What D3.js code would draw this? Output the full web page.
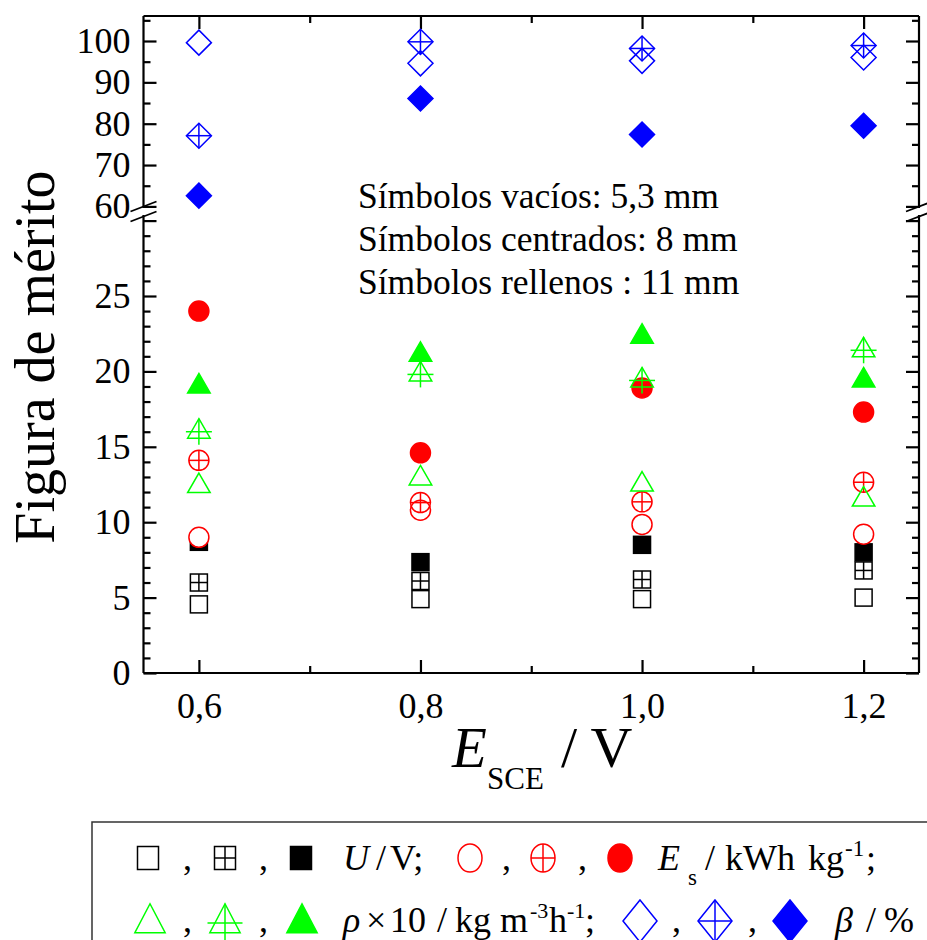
<!DOCTYPE html>
<html><head><meta charset="utf-8">
<script src="https://cdn.jsdelivr.net/npm/d3@7"></script>
<style>
html,body{margin:0;padding:0;background:#fff;}
svg{display:block;}
text{font-family:"Liberation Serif","Times New Roman",serif;fill:#000;}
</style></head>
<body>
<svg id="chart" width="927" height="940"></svg>
<script>
// ---------- data ----------
const potentials = [0.6, 0.8, 1.0, 1.2];
const xTickLabels = ["0,6", "0,8", "1,0", "1,2"];
const U_open      = [4.55, 4.9, 4.9, 5.0];
const U_centered  = [6.0, 6.1, 6.2, 6.8];
const U_filled    = [8.7, 7.35, 8.5, 8.0];
const Es_open     = [9.0, 10.8, 9.85, 9.2];
const Es_centered = [14.1, 11.3, 11.35, 12.65];
const Es_filled   = [24.0, 14.6, 18.9, 17.3];
const rho_open     = [12.4, 12.9, 12.5, 11.5];
const rho_centered = [16.0, 19.8, 19.4, 21.4];
const rho_filled   = [19.0, 21.1, 22.3, 19.4];
const beta_open     = [99.6, 94.6, 95.2, 96.0];
const beta_centered = [77.1, 99.8, 98.2, 98.9];
const beta_filled   = [62.6, 86.1, 77.4, 79.5];
const lowerTickLabels = [0, 5, 10, 15, 20, 25];
const upperTickLabels = [60, 70, 80, 90, 100];
const annotations = ["Símbolos vacíos: 5,3 mm", "Símbolos centrados: 8 mm", "Símbolos rellenos : 11 mm"];

// ---------- layout ----------
const L = 143.5, R = 919, T = 16, B = 673;
const svg = d3.select("#chart");
const x = d3.scaleLinear().domain([0.55, 1.25]).range([L, R]);
const yLow = d3.scaleLinear().domain([0, 30]).range([B, B - 30 * 15.08]);
const yUp = d3.scaleLinear().domain([60, 100]).range([206.4, 41]);
const upLowEnd = 208, lowTopEnd = 215;

const frame = svg.append("g").attr("stroke", "#000").attr("stroke-width", 2.2).attr("fill", "none");
frame.append("line").attr("x1", L).attr("x2", R).attr("y1", T).attr("y2", T);
frame.append("line").attr("x1", L).attr("x2", R).attr("y1", B).attr("y2", B);
[L, R].forEach(xx => {
  frame.append("line").attr("x1", xx).attr("x2", xx).attr("y1", T).attr("y2", upLowEnd);
  frame.append("line").attr("x1", xx).attr("x2", xx).attr("y1", lowTopEnd).attr("y2", B);
  [206.5, 216.5].forEach(cy => {
    frame.append("line").attr("x1", xx - 13).attr("y1", cy + 5).attr("x2", xx + 13).attr("y2", cy - 5)
      .attr("stroke-width", 1.8);
  });
});

function styleAxis(g) {
  g.select(".domain").remove();
  g.selectAll(".tick line").attr("stroke", "#000").attr("stroke-width", 2.2);
  g.selectAll(".tick text").style("font-family", '"Liberation Serif","Times New Roman",serif')
    .style("font-size", "36px").attr("fill", "#000");
}
// x axes (bottom & top), inward ticks
const xMinor = [0.7, 0.9, 1.1];
svg.append("g").attr("transform", `translate(0,${B})`)
  .call(d3.axisBottom(x).tickValues(potentials).tickSize(-13).tickPadding(19)
    .tickFormat((d, i) => xTickLabels[i])).call(styleAxis);
svg.append("g").attr("transform", `translate(0,${B})`)
  .call(d3.axisBottom(x).tickValues(xMinor).tickSize(-7).tickFormat("")).call(styleAxis);
svg.append("g").attr("transform", `translate(0,${T})`)
  .call(d3.axisTop(x).tickValues(potentials).tickSize(-13).tickFormat("")).call(styleAxis);
svg.append("g").attr("transform", `translate(0,${T})`)
  .call(d3.axisTop(x).tickValues(xMinor).tickSize(-7).tickFormat("")).call(styleAxis);

// y axes
const lowMajor = d3.range(0, 31, 5);
const lowMinor = d3.range(0, 31, 1).filter(v => v % 5 !== 0);
const upMajor = d3.range(60, 101, 10);
const upMinor = [65, 75, 85, 95, 105];
[[L, d3.axisLeft, 1], [R, d3.axisRight, 0]].forEach(([xx, ax, lab]) => {
  svg.append("g").attr("transform", `translate(${xx},0)`)
    .call(ax(yLow).tickValues(lowMajor).tickSize(-13).tickPadding(13)
      .tickFormat(d => (lab && lowerTickLabels.includes(d)) ? d : "")).call(styleAxis);
  svg.append("g").attr("transform", `translate(${xx},0)`)
    .call(ax(yLow).tickValues(lowMinor).tickSize(-7).tickFormat("")).call(styleAxis);
  svg.append("g").attr("transform", `translate(${xx},0)`)
    .call(ax(yUp).tickValues(upMajor).tickSize(-13).tickPadding(13)
      .tickFormat(d => (lab && upperTickLabels.includes(d)) ? d : "")).call(styleAxis);
  svg.append("g").attr("transform", `translate(${xx},0)`)
    .call(ax(yUp).tickValues(upMinor).tickSize(-7).tickFormat("")).call(styleAxis);
});

// ---------- symbols ----------
function sym(g, shape, kind, color, cx, cy, s) {
  const sw = 1.5;
  const fill = kind === "filled" ? color : (kind === "open" && shape === "circle" ? "#fff" : "none");
  let plus = null;
  if (shape === "square") {
    const h = s.hw, hh = s.hh || s.hw;
    g.append("rect").attr("x", cx - h).attr("y", cy - hh).attr("width", 2 * h).attr("height", 2 * hh)
      .attr("fill", fill).attr("stroke", color).attr("stroke-width", sw);
    plus = [[cx - h, cy, cx + h, cy], [cx, cy - hh, cx, cy + hh]];
  } else if (shape === "circle") {
    const rx = s.rx, ry = s.ry || s.rx;
    g.append("ellipse").attr("cx", cx).attr("cy", cy).attr("rx", rx).attr("ry", ry)
      .attr("fill", fill).attr("stroke", color).attr("stroke-width", sw);
    plus = [[cx - rx, cy, cx + rx, cy], [cx, cy - ry, cx, cy + ry]];
  } else if (shape === "triangle") {
    const r = s.r, sy = s.sy || 1, sx = s.sx || 1;
    const pts = [[cx, cy - r * sy], [cx + 0.866 * r * sx, cy + 0.5 * r * sy], [cx - 0.866 * r * sx, cy + 0.5 * r * sy]];
    g.append("path").attr("d", "M" + pts.join("L") + "Z")
      .attr("fill", fill).attr("stroke", color).attr("stroke-width", sw).attr("stroke-linejoin", "miter");
    plus = [[cx - r * sx, cy, cx + r * sx, cy], [cx, cy - r * sy, cx, cy + r * sy]];
  } else if (shape === "diamond") {
    const hx = s.hx, hy = s.hy || s.hx;
    const pts = [[cx, cy - hy], [cx + hx, cy], [cx, cy + hy], [cx - hx, cy]];
    g.append("path").attr("d", "M" + pts.join("L") + "Z")
      .attr("fill", fill).attr("stroke", color).attr("stroke-width", sw);
    plus = [[cx - hx, cy, cx + hx, cy], [cx, cy - hy, cx, cy + hy]];
  }
  if (kind === "centered") {
    plus.forEach(p => g.append("line").attr("x1", p[0]).attr("y1", p[1]).attr("x2", p[2]).attr("y2", p[3])
      .attr("stroke", color).attr("stroke-width", sw));
  }
}

const BLACK = "#000000", RED = "#ff0000", GREEN = "#00ff00", BLUE = "#0000ff";
const plotSizes = { square: { hw: 8.5 }, circle: { rx: 10 }, triangle: { r: 13 }, diamond: { hx: 12.5 } };
const seriesList = [
  { vals: U_open, shape: "square", kind: "open", color: BLACK, y: yLow },
  { vals: U_centered, shape: "square", kind: "centered", color: BLACK, y: yLow },
  { vals: U_filled, shape: "square", kind: "filled", color: BLACK, y: yLow },
  { vals: Es_open, shape: "circle", kind: "open", color: RED, y: yLow },
  { vals: Es_centered, shape: "circle", kind: "centered", color: RED, y: yLow },
  { vals: Es_filled, shape: "circle", kind: "filled", color: RED, y: yLow },
  { vals: rho_open, shape: "triangle", kind: "open", color: GREEN, y: yLow },
  { vals: rho_centered, shape: "triangle", kind: "centered", color: GREEN, y: yLow },
  { vals: rho_filled, shape: "triangle", kind: "filled", color: GREEN, y: yLow },
  { vals: beta_open, shape: "diamond", kind: "open", color: BLUE, y: yUp },
  { vals: beta_centered, shape: "diamond", kind: "centered", color: BLUE, y: yUp },
  { vals: beta_filled, shape: "diamond", kind: "filled", color: BLUE, y: yUp }
];
const marks = svg.append("g");
seriesList.forEach(sr => {
  sr.vals.forEach((v, i) => {
    sym(marks, sr.shape, sr.kind, sr.color, x(potentials[i]), sr.y(v), plotSizes[sr.shape]);
  });
});

// ---------- annotation ----------
annotations.forEach((t, i) => {
  svg.append("text").attr("x", 358).attr("y", 208 + i * 43).style("font-size", "35.5px").text(t);
});

// ---------- axis titles ----------
svg.append("text").attr("transform", "translate(54,357) rotate(-90)").attr("text-anchor", "middle")
  .style("font-size", "56px").text("Figura de mérito");
svg.append("text").attr("x", 452).attr("y", 767).style("font-size", "57px").style("font-style", "italic").text("E");
svg.append("text").attr("x", 487).attr("y", 789).style("font-size", "31px").text("SCE");
svg.append("text").attr("x", 561).attr("y", 767).style("font-size", "58px").text("/ V");

// ---------- legend ----------
const lg = svg.append("g");
lg.append("rect").attr("x", 92).attr("y", 822).attr("width", 900).attr("height", 200)
  .attr("fill", "none").attr("stroke", "#333").attr("stroke-width", 1.5);
const r1 = 858, r2 = 921, b1 = 870, b2 = 932;
const legSizes = { square: { hw: 10.5, hh: 11.5 }, circle: { rx: 12, ry: 14 }, triangle: { r: 17.5, sx: 1, sy: 1.1 }, diamond: { hx: 17, hy: 21 } };
const legItems = [
  ["square", "open", BLACK, 148, r1], ["square", "centered", BLACK, 225, r1], ["square", "filled", BLACK, 301, r1],
  ["circle", "open", RED, 470, r1], ["circle", "centered", RED, 543, r1], ["circle", "filled", RED, 620, r1],
  ["triangle", "open", GREEN, 150, r2 + 2], ["triangle", "centered", GREEN, 225, r2 + 2], ["triangle", "filled", GREEN, 302, r2 + 2],
  ["diamond", "open", BLUE, 640, r2], ["diamond", "centered", BLUE, 715, r2], ["diamond", "filled", BLUE, 790, r2]
];
legItems.forEach(it => sym(lg, it[0], it[1], it[2], it[3], it[4], legSizes[it[0]]));
[[183, b1], [259, b1], [502, b1], [578, b1], [183, b2], [259, b2], [672, b2], [748, b2]].forEach(p => {
  lg.append("text").attr("x", p[0]).attr("y", p[1]).style("font-size", "36px").text(",");
});
function piece(xx, yy, str, size, italic) {
  const t = lg.append("text").attr("x", xx).attr("y", yy).style("font-size", size + "px").text(str);
  if (italic) t.style("font-style", "italic");
}
// row 1
piece(343, b1, "U", 36, true);
piece(376, b1, "/", 36);
piece(390, b1, "V;", 36);
piece(658, b1, "E", 36, true);
piece(688, b1 + 15, "s", 23);
piece(705, b1, "/", 36);
piece(725, b1, "kWh", 36);
piece(808, b1, "kg", 36);
piece(845, b1 - 14, "-1", 23);
piece(866, b1, ";", 36);
// row 2
piece(343, b2, "ρ", 36, true);
piece(366, b2, "×", 36);
piece(390, b2, "10", 36);
piece(437, b2, "/", 36);
piece(455, b2, "kg", 36);
piece(500, b2, "m", 36);
piece(530, b2 - 14, "-3", 22);
piece(549, b2, "h", 36);
piece(567, b2 - 14, "-1", 22);
piece(585, b2, ";", 36);
piece(835, b2, "β", 36, true);
piece(866, b2, "/", 36);
piece(884, b2, "%", 36);
</script>
</body></html>
